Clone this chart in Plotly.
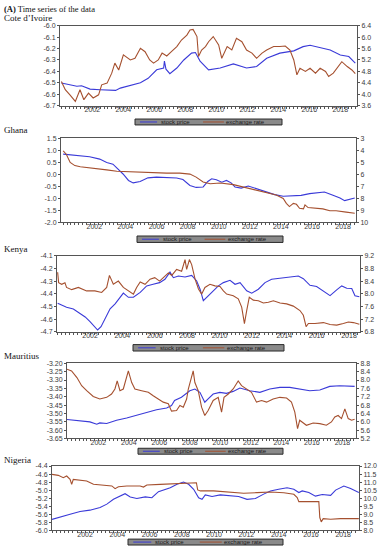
import plotly.graph_objects as go

W, H = 387, 550

# ------------------------------------------------------------------ data
COUNTRIES = ["Cote d\u2019Ivoire", "Ghana", "Kenya", "Mauritius", "Nigeria"]
YEAR_TICKS = [2002, 2004, 2006, 2008, 2010, 2012, 2014, 2016, 2018]
LEGEND_LABELS = ["stock price", "exchange rate"]

CI_STOCK = [(2000.0, -6.502), (2001.0, -6.53), (2001.3, -6.526), (2001.85, -6.555), (2002.5, -6.56),
            (2003.5, -6.566), (2003.8, -6.546), (2004.65, -6.517), (2005.1, -6.50), (2005.6, -6.46),
            (2006.15, -6.386), (2006.6, -6.37), (2006.65, -6.31), (2006.75, -6.38), (2007.0, -6.42),
            (2007.45, -6.37), (2007.9, -6.30), (2008.4, -6.24), (2008.65, -6.235), (2008.95, -6.31),
            (2009.5, -6.386), (2010.25, -6.37), (2011.1, -6.334), (2011.95, -6.37), (2012.6, -6.357),
            (2013.25, -6.285), (2014.1, -6.24), (2015.0, -6.22), (2015.6, -6.183), (2016.05, -6.171),
            (2016.7, -6.19), (2017.35, -6.212), (2018.0, -6.256), (2018.55, -6.27), (2018.97, -6.328)]
CI_FX = [(2000.0, 4.45), (2000.25, 4.16), (2000.55, 3.98), (2000.9, 3.75), (2001.2, 4.16), (2001.45, 3.81),
         (2001.75, 4.04), (2002.05, 3.87), (2002.4, 3.98), (2002.6, 4.33), (2002.95, 4.39), (2003.25, 4.74),
         (2003.45, 5.09), (2003.7, 4.85), (2004.0, 5.38), (2004.45, 5.20), (2004.75, 5.26), (2005.1, 5.61),
         (2005.4, 5.49), (2005.7, 5.20), (2005.95, 5.09), (2006.25, 5.20), (2006.5, 5.44), (2006.8, 5.34),
         (2007.1, 5.49), (2007.45, 5.67), (2007.75, 5.90), (2008.1, 6.07), (2008.3, 6.25), (2008.5, 6.27),
         (2008.75, 6.02), (2008.85, 5.32), (2009.05, 5.55), (2009.3, 5.67), (2009.5, 5.84), (2009.8, 6.02),
         (2010.15, 5.73), (2010.35, 5.26), (2010.7, 5.67), (2011.0, 5.55), (2011.3, 5.96), (2011.65, 5.84),
         (2011.95, 5.55), (2012.3, 5.44), (2012.6, 5.26), (2012.95, 5.44), (2013.25, 5.55), (2013.7, 5.67),
         (2014.1, 5.67), (2014.45, 5.69), (2014.75, 5.55), (2015.0, 5.20), (2015.2, 4.68), (2015.4, 4.91),
         (2015.75, 4.80), (2016.05, 4.91), (2016.4, 4.74), (2016.7, 4.91), (2017.05, 4.80), (2017.25, 4.62),
         (2017.55, 4.74), (2017.8, 4.91), (2018.1, 5.14), (2018.45, 4.97), (2018.75, 4.85), (2018.97, 4.72)]

GH_STOCK = [(2000.0, 0.84), (2000.87, 0.77), (2001.7, 0.73), (2002.35, 0.63), (2002.8, 0.49), (2003.2, 0.42),
            (2003.55, 0.22), (2003.85, 0.01), (2004.2, -0.26), (2004.5, -0.36), (2004.95, -0.30),
            (2005.45, -0.15), (2006.0, -0.12), (2006.65, -0.14), (2007.3, -0.16), (2007.7, -0.22),
            (2008.15, -0.47), (2008.55, -0.55), (2009.0, -0.53), (2009.3, -0.30), (2009.55, -0.19),
            (2009.85, -0.23), (2010.2, -0.33), (2010.5, -0.26), (2010.8, -0.36), (2011.05, -0.53),
            (2011.45, -0.58), (2011.9, -0.49), (2012.45, -0.60), (2013.05, -0.71), (2013.6, -0.85),
            (2014.15, -0.92), (2014.8, -0.90), (2015.3, -0.88), (2015.85, -0.81), (2016.3, -0.77),
            (2016.8, -0.74), (2017.35, -0.88), (2017.8, -0.99), (2018.1, -1.10), (2018.4, -1.05),
            (2018.75, -0.99)]
GH_FX = [(2000.0, 4.05), (2000.2, 4.33), (2000.45, 5.01), (2000.75, 5.28), (2001.1, 5.37), (2001.5, 5.42),
         (2002.15, 5.50), (2002.8, 5.64), (2003.45, 5.75), (2004.1, 5.78), (2004.7, 5.86), (2005.6, 5.89),
         (2006.65, 5.91), (2007.5, 5.91), (2008.15, 5.99), (2008.55, 6.24), (2009.0, 6.65), (2009.45, 6.79),
         (2010.1, 6.73), (2010.95, 6.87), (2011.55, 7.06), (2012.2, 7.25), (2012.85, 7.42), (2013.3, 7.61),
         (2013.7, 7.74), (2014.15, 8.02), (2014.35, 8.43), (2014.55, 8.70), (2014.8, 8.43), (2015.0, 8.51),
         (2015.2, 8.84), (2015.45, 8.89), (2015.55, 8.56), (2015.75, 8.78), (2016.2, 8.84), (2016.7, 8.89),
         (2017.15, 9.05), (2017.55, 9.05), (2018.2, 9.16), (2018.75, 9.25)]

KE_STOCK = [(2000.0, -4.475), (2000.55, -4.506), (2000.97, -4.52), (2001.4, -4.557), (2001.7, -4.583),
            (2002.0, -4.62), (2002.25, -4.66), (2002.47, -4.686), (2002.68, -4.66), (2002.93, -4.596),
            (2003.24, -4.519), (2003.55, -4.48), (2003.85, -4.428), (2004.06, -4.395), (2004.37, -4.428),
            (2004.68, -4.428), (2005.1, -4.389), (2005.5, -4.338), (2005.9, -4.325), (2006.3, -4.312),
            (2006.63, -4.286), (2006.94, -4.229), (2007.15, -4.273), (2007.46, -4.26), (2007.87, -4.268),
            (2008.28, -4.255), (2008.59, -4.299), (2008.8, -4.364), (2009.0, -4.454), (2009.31, -4.415),
            (2009.62, -4.376), (2009.93, -4.338), (2010.24, -4.312), (2010.65, -4.294), (2010.96, -4.325),
            (2011.27, -4.312), (2011.68, -4.376), (2011.99, -4.395), (2012.4, -4.364), (2012.81, -4.312),
            (2013.22, -4.286), (2013.74, -4.278), (2014.36, -4.273), (2014.87, -4.26), (2015.18, -4.281),
            (2015.59, -4.333), (2016.0, -4.343), (2016.42, -4.376), (2016.83, -4.415), (2017.24, -4.369),
            (2017.55, -4.338), (2017.86, -4.356), (2018.17, -4.358), (2018.37, -4.415), (2018.64, -4.423)]
KE_FX = [(2000.0, 8.68), (2000.06, 8.35), (2000.25, 8.30), (2000.45, 8.35), (2000.55, 8.20), (2000.87, 8.13),
         (2001.28, 8.20), (2001.79, 8.09), (2002.3, 8.09), (2002.72, 8.04), (2003.03, 8.20), (2003.2, 8.58),
         (2003.44, 8.30), (2003.75, 8.40), (2004.06, 8.20), (2004.37, 8.09), (2004.68, 7.99), (2004.88, 8.20),
         (2005.1, 8.37), (2005.4, 8.30), (2005.71, 8.46), (2006.0, 8.51), (2006.3, 8.40), (2006.63, 8.56),
         (2006.84, 8.66), (2007.05, 8.58), (2007.35, 8.77), (2007.66, 8.71), (2007.87, 9.08), (2007.97, 8.77),
         (2008.14, 9.08), (2008.28, 8.92), (2008.49, 8.46), (2008.7, 8.15), (2008.9, 7.99), (2009.1, 8.20),
         (2009.41, 8.30), (2009.72, 8.25), (2010.03, 8.23), (2010.24, 8.09), (2010.44, 7.99), (2010.85, 7.94),
         (2011.16, 7.84), (2011.37, 7.58), (2011.54, 7.06), (2011.68, 7.47), (2011.84, 7.89), (2012.09, 7.80),
         (2012.4, 7.78), (2012.71, 7.71), (2013.02, 7.73), (2013.33, 7.78), (2013.74, 7.71), (2014.15, 7.68),
         (2014.56, 7.61), (2014.97, 7.47), (2015.18, 7.32), (2015.35, 6.96), (2015.49, 7.06), (2015.9, 7.06),
         (2016.42, 7.09), (2016.83, 7.03), (2017.24, 7.01), (2017.65, 7.06), (2017.96, 7.11), (2018.27, 7.09),
         (2018.64, 7.04)]

MU_STOCK = [(1999.95, -3.537), (2000.8, -3.545), (2001.45, -3.551), (2001.9, -3.565), (2002.1, -3.557),
            (2002.55, -3.561), (2003.2, -3.541), (2003.86, -3.528), (2004.5, -3.512), (2005.17, -3.492),
            (2005.82, -3.478), (2006.48, -3.468), (2006.8, -3.453), (2007.0, -3.423), (2007.45, -3.403),
            (2008.0, -3.364), (2008.33, -3.354), (2008.66, -3.374), (2008.98, -3.433), (2009.2, -3.413),
            (2009.53, -3.384), (2009.97, -3.374), (2010.4, -3.38), (2010.84, -3.368), (2011.28, -3.348),
            (2011.93, -3.364), (2012.59, -3.374), (2013.24, -3.354), (2013.9, -3.344), (2014.55, -3.344),
            (2015.2, -3.354), (2015.86, -3.364), (2016.52, -3.36), (2017.17, -3.338), (2017.82, -3.334),
            (2018.36, -3.334), (2018.8, -3.338)]
MU_FX = [(1999.95, 8.52), (2000.25, 8.44), (2000.6, 8.12), (2000.91, 7.73), (2001.24, 7.49), (2001.67, 7.21),
         (2002.1, 7.09), (2002.55, 7.17), (2002.87, 7.33), (2003.09, 7.57), (2003.24, 7.96), (2003.42, 7.49),
         (2003.64, 7.57), (2003.97, 8.44), (2004.19, 7.88), (2004.4, 7.57), (2004.84, 7.49), (2005.28, 7.41),
         (2005.6, 7.25), (2005.93, 7.09), (2006.26, 6.94), (2006.59, 6.86), (2006.8, 6.51), (2007.13, 6.54),
         (2007.35, 6.78), (2007.57, 6.70), (2007.79, 7.09), (2007.9, 7.57), (2008.05, 8.04), (2008.22, 8.44),
         (2008.33, 7.88), (2008.55, 7.49), (2008.77, 6.70), (2008.98, 6.30), (2009.2, 6.54), (2009.53, 7.02),
         (2009.86, 7.17), (2010.08, 6.46), (2010.24, 7.17), (2010.52, 7.33), (2010.84, 7.57), (2011.17, 7.96),
         (2011.39, 7.73), (2011.72, 7.57), (2012.04, 7.41), (2012.37, 6.94), (2012.7, 7.02), (2013.03, 6.94),
         (2013.46, 7.09), (2013.9, 7.17), (2014.34, 7.14), (2014.66, 6.94), (2014.88, 6.46), (2015.06, 5.67),
         (2015.2, 6.07), (2015.64, 5.83), (2016.08, 5.94), (2016.52, 5.91), (2016.95, 5.83), (2017.28, 5.99),
         (2017.5, 6.23), (2017.72, 6.30), (2017.94, 6.15), (2018.16, 6.62), (2018.38, 6.15), (2018.6, 6.07),
         (2018.8, 6.12)]

NG_STOCK = [(1999.95, -5.73), (2000.45, -5.68), (2001.07, -5.60), (2001.69, -5.535), (2002.3, -5.50),
            (2002.93, -5.435), (2003.35, -5.35), (2003.76, -5.23), (2004.17, -5.145), (2004.48, -5.09),
            (2004.8, -5.17), (2005.21, -5.21), (2005.73, -5.17), (2006.14, -5.19), (2006.55, -5.04),
            (2007.28, -4.94), (2007.7, -4.856), (2008.1, -4.80), (2008.42, -4.856), (2008.73, -4.98),
            (2009.04, -5.19), (2009.25, -5.23), (2009.45, -5.12), (2009.87, -5.16), (2010.38, -5.12),
            (2011.0, -5.15), (2011.52, -5.16), (2012.04, -5.23), (2012.56, -5.21), (2013.07, -5.10),
            (2013.49, -5.02), (2014.0, -4.98), (2014.52, -4.94), (2014.94, -4.98), (2015.25, -5.06),
            (2015.46, -5.02), (2015.87, -5.06), (2016.28, -5.15), (2016.7, -5.11), (2017.22, -5.13),
            (2017.53, -5.0), (2018.04, -4.90), (2018.46, -4.96), (2018.97, -5.06)]
NG_FX = [(1999.95, 11.48), (2000.34, 11.42), (2000.65, 11.27), (2000.86, 11.38), (2001.07, 11.17),
         (2001.17, 10.86), (2001.27, 11.17), (2001.69, 11.11), (2002.1, 11.07), (2002.52, 10.86),
         (2003.13, 10.82), (2003.66, 10.76), (2003.86, 10.59), (2004.07, 10.71), (2004.59, 10.76),
         (2005.41, 10.76), (2005.62, 10.69), (2005.83, 10.82), (2006.66, 10.86), (2007.7, 10.92),
         (2008.73, 10.96), (2008.9, 10.96), (2008.98, 10.51), (2009.15, 10.45), (2009.97, 10.45),
         (2011.0, 10.38), (2011.83, 10.30), (2012.66, 10.34), (2013.49, 10.38), (2014.32, 10.34),
         (2014.94, 10.24), (2015.15, 10.03), (2015.25, 9.78), (2016.39, 9.78), (2016.49, 9.78),
         (2016.55, 8.79), (2016.64, 8.52), (2016.76, 8.72), (2017.22, 8.68), (2017.84, 8.72),
         (2018.46, 8.72), (2018.97, 8.72)]

STOCK_SERIES = [CI_STOCK, GH_STOCK, KE_STOCK, MU_STOCK, NG_STOCK]
FX_SERIES = [CI_FX, GH_FX, KE_FX, MU_FX, NG_FX]

LEFT_TICKS = [
    [-6.0, -6.1, -6.2, -6.3, -6.4, -6.5, -6.6, -6.7],
    [1.5, 1.0, 0.5, 0.0, -0.5, -1.0, -1.5, -2.0],
    [-4.1, -4.2, -4.3, -4.4, -4.5, -4.6, -4.7],
    [-3.20, -3.25, -3.30, -3.35, -3.40, -3.45, -3.50, -3.55, -3.60, -3.65],
    [-4.4, -4.6, -4.8, -5.0, -5.2, -5.4, -5.6, -5.8, -6.0],
]
RIGHT_TICKS = [
    [6.4, 6.0, 5.6, 5.2, 4.8, 4.4, 4.0, 3.6],
    [3, 4, 5, 6, 7, 8, 9, 10],
    [9.2, 8.8, 8.4, 8.0, 7.6, 7.2, 6.8],
    [8.8, 8.4, 8.0, 7.6, 7.2, 6.8, 6.4, 6.0, 5.6, 5.2],
    [12.0, 11.5, 11.0, 10.5, 10.0, 9.5, 9.0, 8.5, 8.0],
]

# ------------------------------------------------------------------ layout (pixels)
PANEL_BOX = [(60, 357, 22, 103), (61, 356, 136, 221), (57, 360, 255, 332),
             (67, 356, 364, 440), (52, 359, 468, 533)]
X_RANGE = [(1999.91, 2019.08), (1999.86, 2018.83), (1999.96, 2018.68),
           (1999.95, 2018.89), (1999.95, 2018.98)]
LEFT_DEC = [1, 1, 1, 2, 1]
RIGHT_DEC = [1, 0, 1, 1, 1]
RIGHT_REVERSED = [False, True, False, False, False]
LABEL_Y = [14, 128, 248, 357, 462]
LEGEND_BOX = [(135, 282, 116.5, 122.5), (137, 283, 235, 241.5), (133, 284, 345, 351.5),
              (138, 283, 450, 456), (128, 283, 542, 548)]

BLUE = "#3a3ad8"
BROWN = "#a5502f"
AXC = "#555555"
TICKFONT = dict(family="Liberation Sans, Arial, sans-serif", size=7, color="#3a3a3a")
SERIF = "Liberation Serif, Times New Roman, serif"


def fx(p):
    return p / W


def fy(p):
    return 1 - p / H


fig = go.Figure()
layout = dict(width=W, height=H, margin=dict(l=0, r=0, t=0, b=0),
              paper_bgcolor="white", plot_bgcolor="white", showlegend=False)
shapes, annotations = [], []

for i in range(5):
    n = i + 1
    xa = "x" if n == 1 else f"x{n}"
    yl_idx, yr_idx = 2 * i + 1, 2 * i + 2
    yl = "y" if yl_idx == 1 else f"y{yl_idx}"
    yr = f"y{yr_idx}"
    x0, x1, y0, y1 = PANEL_BOX[i]

    sx, sy = zip(*STOCK_SERIES[i])
    ex, ey = zip(*FX_SERIES[i])
    fig.add_trace(go.Scatter(x=sx, y=sy, mode="lines", name=LEGEND_LABELS[0],
                             line=dict(color=BLUE, width=1.1), xaxis=xa, yaxis=yl))
    fig.add_trace(go.Scatter(x=ex, y=ey, mode="lines", name=LEGEND_LABELS[1],
                             line=dict(color=BROWN, width=1.1), xaxis=xa, yaxis=yr))

    xkey = "xaxis" if n == 1 else f"xaxis{n}"
    layout[xkey] = dict(
        domain=[fx(x0), fx(x1)], range=list(X_RANGE[i]), anchor=yl,
        showline=True, linecolor=AXC, linewidth=1, mirror=True,
        ticks="", tickvals=YEAR_TICKS, ticktext=[str(v) for v in YEAR_TICKS],
        tickfont=TICKFONT, showgrid=False, zeroline=False, ticklabelstandoff=-3,
        minor=dict(ticks="outside", ticklen=2, tickcolor=AXC, tickmode="linear",
                   tick0=2000, dtick=0.25, showgrid=False),
    )
    lt = LEFT_TICKS[i]
    rt = RIGHT_TICKS[i]
    ylkey = "yaxis" if yl_idx == 1 else f"yaxis{yl_idx}"
    layout[ylkey] = dict(
        domain=[fy(y1), fy(y0)], range=[min(lt), max(lt)], anchor=xa, side="left",
        showline=True, linecolor=AXC, linewidth=1, ticks="outside", ticklen=2,
        tickcolor=AXC, tickvals=lt, ticktext=[f"{v:.{LEFT_DEC[i]}f}" for v in lt],
        tickfont=TICKFONT, showgrid=False, zeroline=False,
    )
    rrange = [max(rt), min(rt)] if RIGHT_REVERSED[i] else [min(rt), max(rt)]
    layout[f"yaxis{yr_idx}"] = dict(
        overlaying=yl, anchor=xa, side="right", range=rrange,
        showline=True, linecolor=AXC, linewidth=1, ticks="outside", ticklen=2,
        tickcolor=AXC, tickvals=rt, ticktext=[f"{v:.{RIGHT_DEC[i]}f}" for v in rt],
        tickfont=TICKFONT, showgrid=False, zeroline=False,
    )

    annotations.append(dict(xref="paper", yref="paper", x=fx(2), y=fy(LABEL_Y[i]),
                            xanchor="left", yanchor="middle", showarrow=False,
                            text=COUNTRIES[i], font=dict(family=SERIF, size=9, color="#111")))

    bx0, bx1, by0, by1 = LEGEND_BOX[i]
    w = bx1 - bx0
    ym = (by0 + by1) / 2
    shapes.append(dict(type="rect", xref="paper", yref="paper",
                       x0=fx(bx0), x1=fx(bx1), y0=fy(by1), y1=fy(by0),
                       fillcolor="#8a8a8a", line=dict(color="#2a2a2a", width=1)))
    shapes.append(dict(type="line", xref="paper", yref="paper",
                       x0=fx(bx0 + 0.034 * w), x1=fx(bx0 + 0.15 * w), y0=fy(ym), y1=fy(ym),
                       line=dict(color=BLUE, width=1)))
    shapes.append(dict(type="line", xref="paper", yref="paper",
                       x0=fx(bx0 + 0.463 * w), x1=fx(bx0 + 0.605 * w), y0=fy(ym), y1=fy(ym),
                       line=dict(color=BROWN, width=1)))
    for lab, rel in zip(LEGEND_LABELS, (0.17, 0.615)):
        annotations.append(dict(xref="paper", yref="paper", x=fx(bx0 + rel * w), y=fy(ym),
                                xanchor="left", yanchor="middle", showarrow=False,
                                text=lab, borderpad=0,
                                font=dict(family="Liberation Sans, Arial, sans-serif",
                                          size=6, color="#1a1a1a")))

annotations.append(dict(xref="paper", yref="paper", x=fx(2), y=fy(5),
                        xanchor="left", yanchor="middle", showarrow=False,
                        text="<b>(A)</b> Time series of the data",
                        font=dict(family=SERIF, size=8.5, color="#111")))

layout["shapes"] = shapes
layout["annotations"] = annotations
fig.update_layout(**layout)
fig.write_html("out.html", config={"displayModeBar": False},
               post_script="document.body.style.margin='0';document.body.style.padding='0';"
                           "document.body.style.overflow='hidden';")
